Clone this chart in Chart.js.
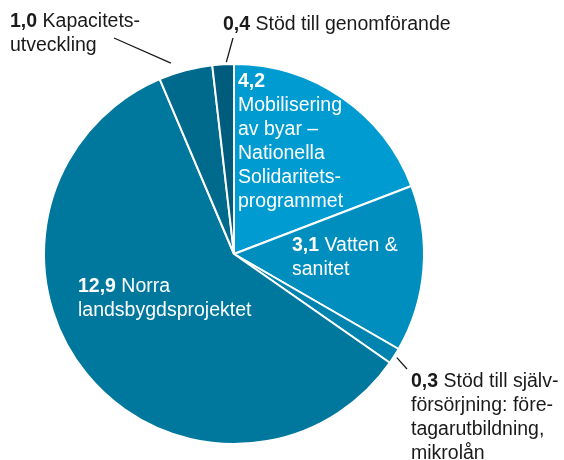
<!DOCTYPE html>
<html>
<head>
<meta charset="utf-8">
<script src="https://cdn.jsdelivr.net/npm/chart.js@4"></script>
<style>
  body { margin: 0; background: #fff; }
  #wrap { width: 564px; height: 460px; }
</style>
</head>
<body>
<div id="wrap"><canvas id="pie" width="564" height="460"></canvas></div>
<script>
// data
var categories = [
  "Mobilisering av byar – Nationella Solidaritetsprogrammet",
  "Vatten & sanitet",
  "Stöd till självförsörjning: företagarutbildning, mikrolån",
  "Norra landsbygdsprojektet",
  "Kapacitetsutveckling",
  "Stöd till genomförande"
];
var values = [4.2, 3.1, 0.3, 12.9, 1.0, 0.4];
var sliceColors = ["#009cd1", "#008ebe", "#0083af", "#00789e", "#006a8d", "#005c7d"];

// text lines for each label (first line gets the value in bold)
var labelLines = [
  ["Mobilisering", "av byar –", "Nationella", "Solidaritets-", "programmet"],
  ["Vatten &", "sanitet"],
  ["Stöd till själv-", "försörjning: före-", "tagarutbildning,", "mikrolån"],
  ["Norra", "landsbygdsprojektet"],
  ["Kapacitets-", "utveckling"],
  ["Stöd till genomförande"]
];
// label placement: x, first baseline, text colour, value on own line
var labelPos = [
  {x: 238, y: 87, color: "#ffffff", own: true},
  {x: 292, y: 251, color: "#ffffff"},
  {x: 411, y: 387, color: "#1a1a1a"},
  {x: 78, y: 292, color: "#ffffff"},
  {x: 10, y: 27, color: "#1a1a1a"},
  {x: 223, y: 30, color: "#1a1a1a"}
];
// leader lines: slice index, angle tweak (deg), distance from rim, end point
var leaders = [
  {i: 2, da: 0, gap: 3, x: 407, y: 369},
  {i: 4, da: -3.5, gap: 11, x: 114, y: 38},
  {i: 5, da: 1, gap: 2, x: 233, y: 38}
];

var fontSize = 19.5;
var lineH = 24;
var fam = '"Liberation Sans", Arial, sans-serif';

function fmt(v) { return v.toFixed(1).replace(".", ","); }

var labelPlugin = {
  id: "pieLabels",
  afterDraw: function(chart) {
    var ctx = chart.ctx;
    var arcs = chart.getDatasetMeta(0).data;
    ctx.save();
    // leader lines
    ctx.strokeStyle = "#1a1a1a";
    ctx.lineWidth = 1.3;
    leaders.forEach(function(l) {
      var a = arcs[l.i];
      var ang = (a.startAngle + a.endAngle) / 2 + l.da * Math.PI / 180;
      var r = a.outerRadius + l.gap;
      ctx.beginPath();
      ctx.moveTo(a.x + Math.cos(ang) * r, a.y + Math.sin(ang) * r);
      ctx.lineTo(l.x, l.y);
      ctx.stroke();
    });
    // texts
    ctx.textBaseline = "alphabetic";
    ctx.textAlign = "left";
    labelLines.forEach(function(lines, i) {
      var p = labelPos[i];
      var y = p.y;
      ctx.fillStyle = p.color;
      var num = fmt(values[i]);
      ctx.font = "bold " + fontSize + "px " + fam;
      if (p.own) {
        ctx.fillText(num, p.x, y);
        y += lineH;
        ctx.font = fontSize + "px " + fam;
        lines.forEach(function(t) { ctx.fillText(t, p.x, y); y += lineH; });
      } else {
        ctx.fillText(num, p.x, y);
        var w = ctx.measureText(num + " ").width;
        ctx.font = fontSize + "px " + fam;
        ctx.fillText(lines[0], p.x + w, y);
        y += lineH;
        lines.slice(1).forEach(function(t) { ctx.fillText(t, p.x, y); y += lineH; });
      }
    });
    ctx.restore();
  }
};

new Chart(document.getElementById("pie"), {
  type: "pie",
  data: {
    labels: categories,
    datasets: [{
      data: values,
      backgroundColor: sliceColors,
      borderColor: "#ffffff",
      borderWidth: 2
    }]
  },
  options: {
    responsive: false,
    animation: false,
    layout: { padding: { left: 43, right: 139, top: 63, bottom: 15 } },
    plugins: {
      legend: { display: false },
      tooltip: { enabled: false }
    }
  },
  plugins: [labelPlugin]
});
</script>
</body>
</html>
